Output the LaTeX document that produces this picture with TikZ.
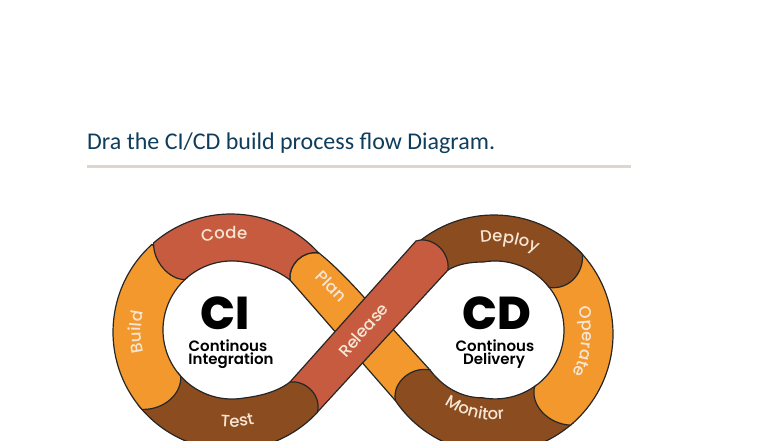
\documentclass[tikz,border=0pt]{standalone}
\usepackage{fontspec}
\setmainfont{Poppins}[BoldFont=* SemiBold]
\newfontfamily\lblfam{Poppins Medium}
\newfontfamily\bigfam{Poppins ExtraBold}
\newfontfamily\titlefont{Carlito}
\usetikzlibrary{decorations.text}

\definecolor{codered}{HTML}{C65B40}
\definecolor{planorange}{HTML}{F2982D}
\definecolor{testbrown}{HTML}{8B4C1F}
\definecolor{titleblue}{HTML}{0F3D5C}
\definecolor{rulegrey}{HTML}{DED6CE}
\definecolor{lblcream}{HTML}{F8E6D4}

\newcommand{\lblfont}{\lblfam\fontsize{16.5}{18}\selectfont\color{lblcream}}

\tikzset{
  seg/.style={draw=black!85,line width=1.2pt,line join=round},
  lbl/.style={decorate,decoration={text along path,text align=center,text={|\lblfont|#1}}},
  bigname/.style={font=\bigfam\fontsize{46}{50}\selectfont},
  subname/.style={font=\fontsize{15}{16}\selectfont\bfseries,inner sep=0pt}
}

\begin{document}
\begin{tikzpicture}[x=1pt,y=1pt]

\useasboundingbox (0,0) rectangle (784,-441);
\clip (0,0) rectangle (784,-441);

% title and rule
\node (title) [anchor=west,inner sep=0pt,text=titleblue,font=\titlefont\fontsize{24}{26}\selectfont] at (87,-143) {Dra the CI/CD build process flow Diagram.};
\fill [rulegrey] (87,-165) rectangle (631,-168);

% band under the crossing
\filldraw [seg,fill=planorange] (290,-280) .. controls (288,-265) and (303,-250) .. (319,-253)
  .. controls (330,-262) and (342,-273) .. (362,-295) -- (430,-370) -- (395.3,-400.5) -- cycle;

% Monitor
\filldraw [seg,fill=testbrown] (494,-334) ++(214:119) arc [start angle=214,end angle=312,radius=119pt]
  -- (536.5,-385) arc [start angle=-53,end angle=-100,radius=69pt]
  .. controls (465,-398) and (445,-390) .. (430,-370)
  .. controls (412,-366) and (392,-382) .. cycle;

% Operate
\filldraw [seg,fill=planorange] (494,-334) ++(46:119) arc [start angle=46,end angle=-50,radius=119pt]
  .. controls (548,-424) and (530,-405) .. (534.6,-386.5)
  arc [start angle=-55,end angle=42,radius=69pt] -- cycle;

% Deploy
\filldraw [seg,fill=testbrown] (494,-334) ++(130:119) arc [start angle=130,end angle=42,radius=119pt]
  .. controls (584,-272) and (570,-290) .. (549.4,-287.5)
  arc [start angle=38,end angle=100,radius=69pt]
  .. controls (470,-262) and (458,-264) .. (448,-270) -- cycle;

% Release
\filldraw [seg,fill=codered] (290,-382) -- (416,-241) .. controls (431,-236) and (450,-250) .. (448,-270)
  -- (317,-412.5) -- cycle;

% Test
\filldraw [seg,fill=testbrown] (231,-332) ++(218:118) arc [start angle=218,end angle=317,radius=118pt]
  .. controls (322,-395) and (305,-380) .. (290,-382)
  .. controls (277,-392) and (260,-396) .. (244,-398)
  arc [start angle=280,end angle=218,radius=69pt] -- cycle;

% Build
\filldraw [seg,fill=planorange] (231,-332) ++(132:118) arc [start angle=132,end angle=221,radius=118pt]
  .. controls (165,-410) and (182,-393) .. (180.7,-376.2)
  arc [start angle=222,end angle=130,radius=69pt] -- cycle;

% Code
\filldraw [seg,fill=codered] (231,-332) ++(131:118) arc [start angle=131,end angle=42,radius=118pt]
  .. controls (303,-250) and (288,-265) .. (290,-280)
  .. controls (277,-270) and (260,-264) .. (244,-262)
  arc [start angle=80,end angle=133,radius=69pt]
  .. controls (170,-280) and (153,-262) .. cycle;

% labels on the bands
\path [lbl=Code] (231,-332) ++(134:94) arc [start angle=134,end angle=54,radius=94pt];
\path [lbl=Build] (231,-332) ++(225:90) arc [start angle=225,end angle=135,radius=90pt];
\path [lbl=Test] (231,-332) ++(214:95) arc [start angle=214,end angle=334,radius=95pt];
\path [lbl=Deploy] (494,-334) ++(130:92) arc [start angle=130,end angle=31,radius=92pt];
\path [lbl=Operate] (494,-334) ++(45:88) arc [start angle=45,end angle=-55,radius=88pt];
\path [lbl=Monitor] (494,-334) ++(196:86) arc [start angle=196,end angle=316,radius=86pt];
\path [lbl=Plan] (300,-262) -- (354,-318);
\path [lbl=Release] (328,-379) -- (408,-289);

% centre texts
\node (ci) [bigname] at (225,-313) {CI};
\node (cont1) [subname] at (228,-346) {Continous};
\node (integ) [subname] at (231,-361) {Integration};

\node (cd) [bigname] at (497,-313) {CD};
\node (cont2) [subname] at (495,-346) {Continous};
\node (deliv) [subname] at (494,-361) {Delivery};

\end{tikzpicture}
\end{document}
